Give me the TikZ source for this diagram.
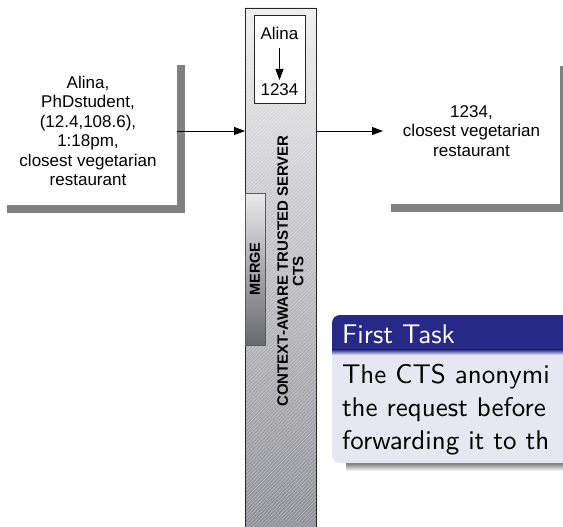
\documentclass[tikz,border=0pt]{standalone}
\usepackage{fontspec}
\setmainfont{Liberation Sans}
\newfontfamily\blocksans{lmsans10-regular.otf}
\usetikzlibrary{arrows.meta,shadows}

\definecolor{shadowgray}{RGB}{128,128,128}
\definecolor{colTop}{RGB}{238,238,238}
\definecolor{colBot}{RGB}{138,138,146}
\definecolor{mergeTop}{RGB}{234,234,234}
\definecolor{mergeBot}{RGB}{104,104,112}
\definecolor{blocktitle}{RGB}{40,40,135}
\definecolor{blockbody}{RGB}{231,231,241}

\begin{document}
\begin{tikzpicture}[x=1pt,y=-1pt,
  every node/.style={inner sep=0pt, outer sep=0pt},
  msgbox/.style={fill=white, align=center,
    minimum width=178pt, minimum height=147pt,
    font=\fontsize{17}{19.4}\selectfont,
    general shadow={fill=shadowgray, shadow xshift=8pt, shadow yshift=-8pt}},
  txt/.style={font=\fontsize{17}{19.4}\selectfont},
  flow/.style={draw=black, line width=0.8pt, -{Triangle[length=11pt,width=8pt]}},
  ctsbox/.style={minimum width=71pt, minimum height=526pt},
  edge/.style={draw=black!85, line width=0.8pt},
  hatch/.style={draw=white, line width=0.55pt, draw opacity=0.45},
  mergebox/.style={draw=black!65, line width=0.8pt,
    minimum width=20pt, minimum height=152pt,
    top color=mergeTop, bottom color=mergeBot},
  keybox/.style={draw=black!85, fill=white, line width=0.8pt,
    minimum width=51pt, minimum height=88pt},
  vlabel/.style={rotate=90, align=center, font=\bfseries\fontsize{15}{15.5}\selectfont},
  blocktext/.style={font=\blocksans\fontsize{27}{33}\selectfont}
]
\useasboundingbox (0,0) rectangle (563,527);

% trusted server column: shading, fine white hatching, outline
\node[ctsbox] (cts) at (280.5,271) {};
\shade[top color=colTop, bottom color=colBot] (cts.north west) rectangle (cts.south east);
\begin{scope}
  \clip (cts.north west) rectangle (cts.south east);
  \foreach \k in {0,3.6,...,610}
    \draw[hatch] (\k-300,540) -- (\k+245,-5);
\end{scope}
\draw[edge] (cts.north west) rectangle (cts.south east);

\node[mergebox] (merge) at (255,269) {};
\node[vlabel, font=\bfseries\fontsize{14.5}{15}\selectfont] (mergelabel) at (merge) {MERGE};
\node[vlabel] (ctsname) at (290.5,271) {CONTEXT-AWARE TRUSTED SERVER\\CTS};

% pseudonym box
\node[keybox] (key) at (279.5,59) {};
\node[txt] (alias) at (279.5,33) {Alina};
\node[txt] (pseud) at (279.5,90) {1234};
\draw[flow, shorten <=9pt, shorten >=4pt] (alias) -- (pseud);

% request and forwarded request
\node[msgbox] (req) at (88,131)
  {Alina,\\PhDstudent,\\(12.4,108.6),\\1:18pm,\\closest vegetarian\\restaurant};
\node[msgbox, minimum width=177pt, minimum height=146pt] (res) at (471.5,131)
  {1234,\\closest vegetarian\\restaurant};

\draw[flow] (req.east) -- (req.east -| cts.west);
\draw[flow] (res.west -| cts.east) -- (res.west);

% block with title
\begin{scope}
  \clip (0,0) rectangle (563,527);
  \shade[top color=black!60, bottom color=white] (346,462) rectangle (600,471);
  \fill[blockbody, rounded corners=8pt] (332,340) rectangle (600,463);
  \fill[blocktitle] (332,352) [rounded corners=8pt] -- (332,315) -- (600,315)
    [sharp corners] -- (600,352) -- cycle;
  \shade[top color=blocktitle, bottom color=blockbody] (332,349.5) rectangle (600,355);
  \node[blocktext, text=white, anchor=base west] (btitle) at (342,343) {First Task};
  \node[blocktext, align=left, anchor=north west] (bbody) at (342,364.5)
    {The CTS anonymi\\the request before\\forwarding it to th};
\end{scope}
\end{tikzpicture}
\end{document}
